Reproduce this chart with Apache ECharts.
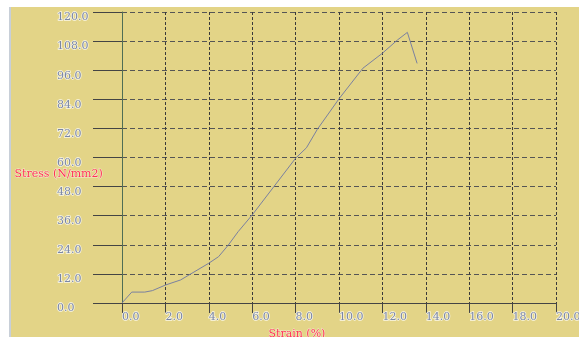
<!DOCTYPE html>
<html><head><meta charset="utf-8">
<script src="https://cdn.jsdelivr.net/npm/echarts@6/dist/echarts.min.js"></script>
<style>html,body{margin:0;padding:0;background:#fff;overflow:hidden;}#c{width:579px;height:337px;}</style>
</head><body><div id="c"></div>
<script>
// Data
var strain = [0, 0.45, 1.05, 1.4, 2.0, 2.7, 4.0, 4.45, 4.9, 5.35, 6.0, 7.0, 8.0, 8.5, 9.0, 10.0, 11.1, 12.0, 12.7, 13.15, 13.6];
var stress = [0, 4.5, 4.5, 5.1, 7.4, 9.5, 16.4, 19.1, 23.9, 29.4, 36.3, 48.0, 59.7, 64.0, 71.6, 84.2, 96.8, 103.0, 108.5, 111.6, 98.8];
var yTitle = 'Stress (N/mm2)';
var xTitle = 'Strain (%)';

var pts = strain.map(function (s, i) { return [s, stress[i]]; });
var labelStyle = {
  color: '#7a86a6', fontFamily: 'DejaVu Serif', fontSize: 11,
  textBorderColor: 'rgba(255,255,255,0.8)', textBorderWidth: 1.5,
  formatter: function (v) { return v.toFixed(1); }
};
var chart = echarts.init(document.getElementById('c'), null, {renderer: 'canvas'});
chart.setOption({
  animation: false,
  backgroundColor: '#e3d487',
  grid: {left: 122, top: 12, right: 23, bottom: 34, containLabel: false, outerBoundsMode: 'none'},
  xAxis: {
    type: 'value', min: 0, max: 20, interval: 2,
    axisLine: {show: true, onZero: false, lineStyle: {color: '#444', width: 1}},
    axisTick: {show: true, length: 10, lineStyle: {color: '#444'}},
    axisLabel: Object.assign({}, labelStyle, {margin: 9, align: 'left', hideOverlap: false}),
    splitLine: {show: true, lineStyle: {color: '#3a3a3a', type: [3, 2], width: 1}}
  },
  yAxis: {
    type: 'value', min: 0, max: 120, interval: 12,
    axisLine: {show: true, onZero: false, lineStyle: {color: '#4f6e55', width: 1}},
    axisTick: {show: true, length: 29, lineStyle: {color: '#444'}},
    axisLabel: Object.assign({}, labelStyle, {margin: 65, align: 'left', verticalAlign: 'top'}),
    splitLine: {show: true, lineStyle: {color: '#555', type: [5, 3], width: 1}}
  },
  graphic: [
    {type: 'rect', left: 0, top: 0, shape: {width: 579, height: 7}, style: {fill: '#ffffff'}, silent: true},
    {type: 'rect', left: 0, top: 0, shape: {width: 9, height: 337}, style: {fill: '#ffffff'}, silent: true},
    {type: 'rect', left: 9, top: 7, shape: {width: 2, height: 330}, style: {fill: '#c8cfd8'}, silent: true},
    {type: 'text', left: 14, top: 168, style: {text: yTitle, fill: '#ff3355', font: '11px "DejaVu Serif"', stroke: 'rgba(255,255,255,0.6)', lineWidth: 1}},
    {type: 'text', left: 268, top: 328, style: {text: xTitle, fill: '#ff3355', font: '11px "DejaVu Serif"', stroke: 'rgba(255,255,255,0.6)', lineWidth: 1}}
  ],
  series: [{
    type: 'line', data: pts, showSymbol: false, symbol: 'none',
    lineStyle: {color: '#7a80a0', width: 1}
  }]
});
</script></body></html>
